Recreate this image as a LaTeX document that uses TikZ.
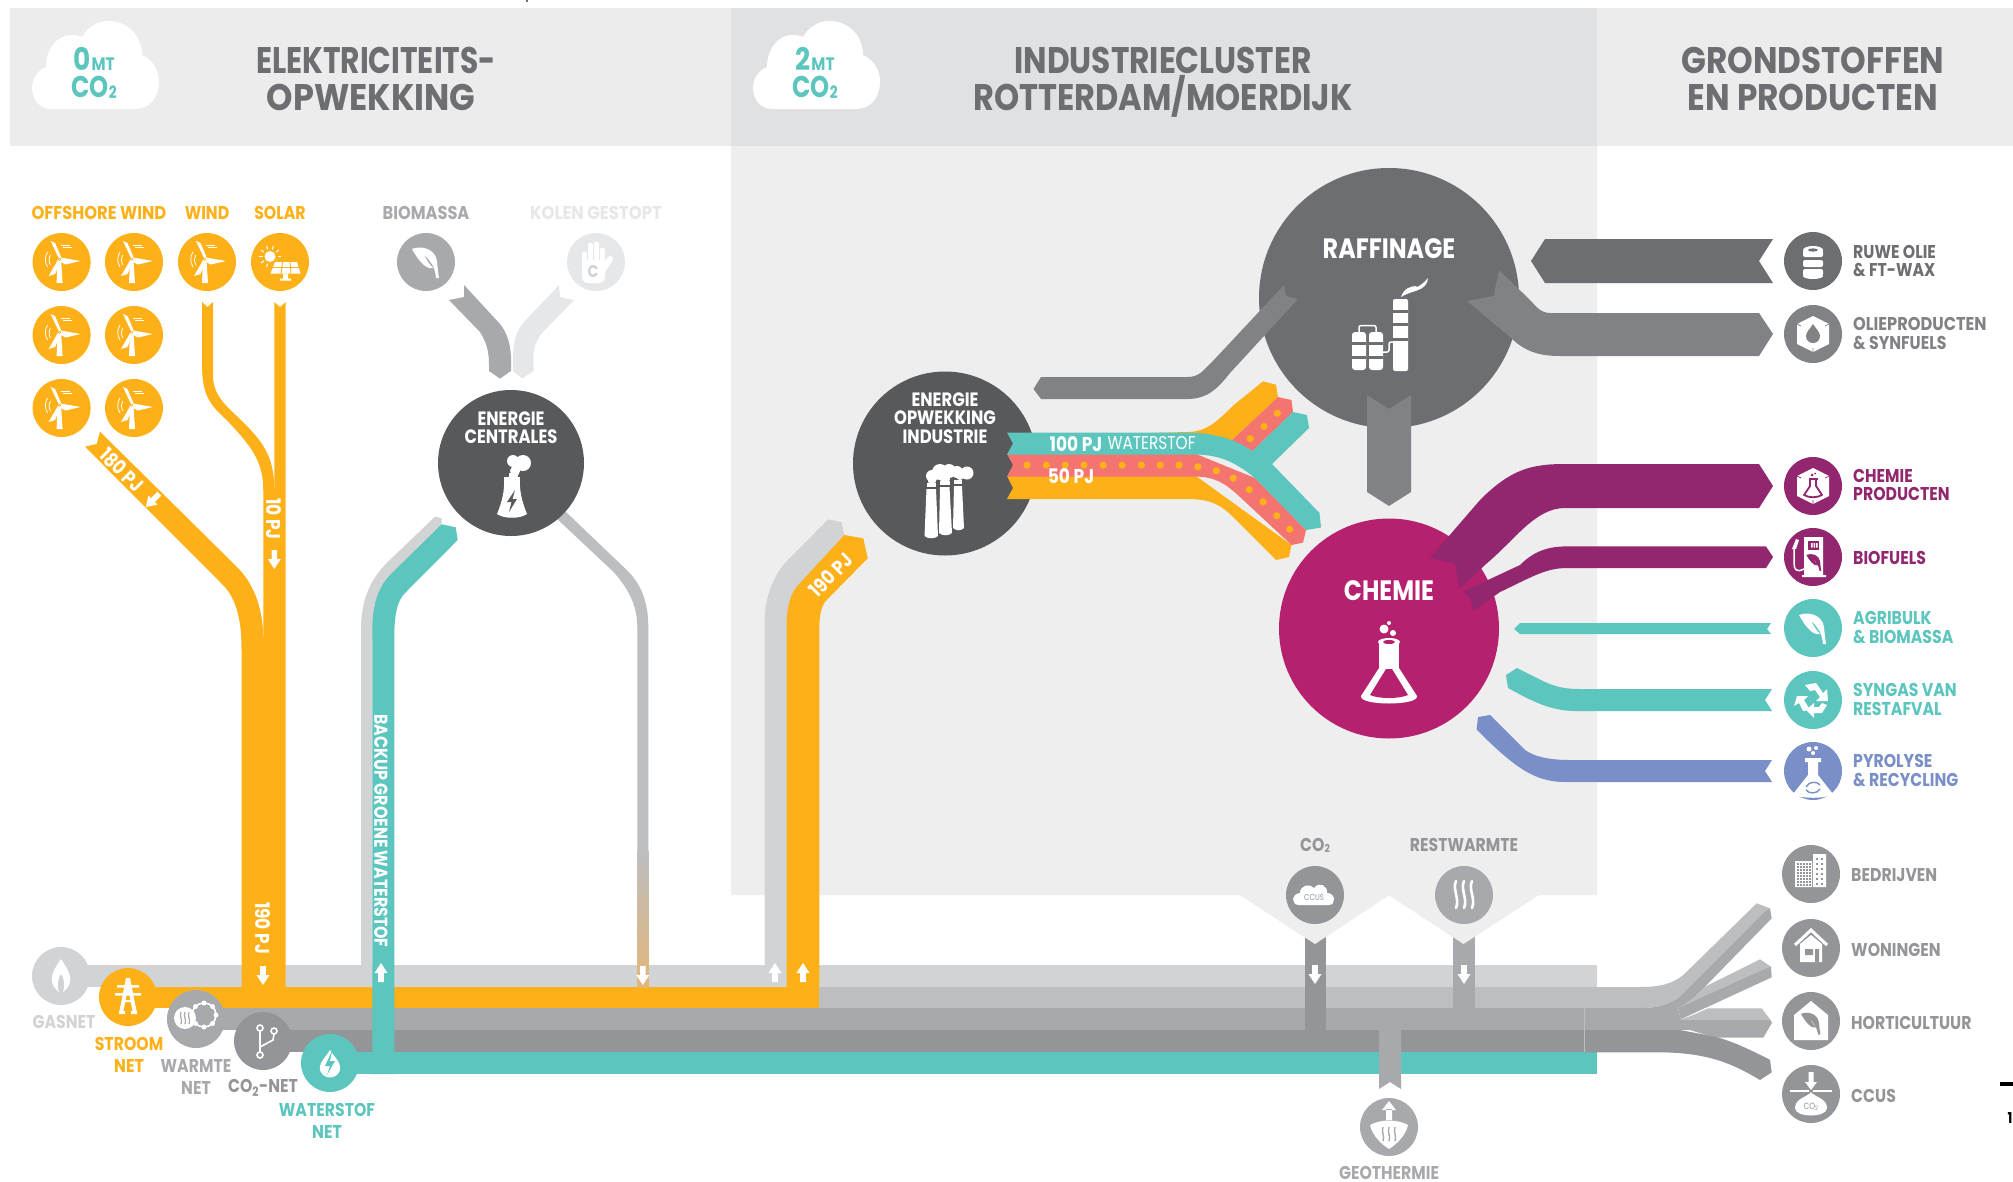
\documentclass[tikz,border=0pt]{standalone}
\usepackage{fontspec}
\usepackage{graphicx}
\setmainfont{Poppins}[FakeStretch=0.85,UprightFont=* Bold,BoldFont=* Bold]
\newfontfamily\titlef{Poppins}[FakeStretch=0.82,UprightFont=* Bold]
\newfontfamily\lightf{Poppins}[FakeStretch=0.83]
\usetikzlibrary{calc}
\definecolor{cOr}{HTML}{FDB017}
\definecolor{cTeal}{HTML}{5BC5BE}
\definecolor{cGa}{HTML}{D1D3D4}
\definecolor{cGb}{HTML}{BCBEC0}
\definecolor{cGc}{HTML}{A7A9AC}
\definecolor{cGd}{HTML}{939598}
\definecolor{cGe}{HTML}{E6E7E8}
\definecolor{cDk}{HTML}{6D6E71}
\definecolor{cDkk}{HTML}{58595B}
\definecolor{cMid}{HTML}{808285}
\definecolor{cMag}{HTML}{B5216F}
\definecolor{cPur}{HTML}{93276F}
\definecolor{cBlue}{HTML}{7A8FC8}
\definecolor{cRed}{HTML}{F47570}
\definecolor{cTan}{HTML}{E3B678}
\definecolor{cHa}{HTML}{ECECEC}
\definecolor{cHb}{HTML}{E0E1E2}
\definecolor{cPanel}{HTML}{EEEEEE}
\newcommand{\fs}[2]{\fontsize{#1}{#2}\selectfont}
\newcommand{\sx}[2]{\scalebox{#1}[1]{#2}}
\tikzset{
 x=1pt,y=-1pt,
 disc/.style={circle,minimum size=58pt,inner sep=0pt,fill=#1},
 title/.style={font=\titlef\fs{37}{37},text=cDk,inner sep=0pt,anchor=base},
 lab/.style={font=\fs{18.5}{18.5},text=#1,inner sep=0pt,anchor=west,align=left,yshift=-1pt},
 clab/.style={font=\fs{18.5}{22},text=#1,inner sep=0pt,anchor=center,align=center,yshift=-1pt},
 wt/.style={font=\fs{20}{20},text=white,inner sep=0pt,anchor=center},
 blab/.style={font=\fs{28}{28},text=white,inner sep=0pt,anchor=center,align=center,yshift=-1pt},
 wturb/.pic={
  \fill[white] (-4,-2) -- (-0.5,-2) -- (1,21) -- (-5,21) -- cycle;
  \fill[white] (-2.5,-3) -- (-11,-21) -- (-6.5,-19) -- (-0.5,-5) -- cycle;
  \fill[white] (-1,-4.5) -- (19,-1) -- (4,2.5) -- (-1,0) -- cycle;
  \fill[white] (-3.5,-2.5) -- (-13,14) -- (-6.5,12) -- (-1,-1) -- cycle;
  \fill[pic actions] (-2.2,-2.5) circle (1.4);
  \fill[white] (-2.2,-2.5) circle (0.6);
  \draw[white,line width=.8pt] (-1,-17) -- (8,-17) (1,-14.5) -- (10,-14.5);
  \draw[white,line width=.8pt] (-14,-10) .. controls (-17,-5) and (-17,0) .. (-14,5);
  \draw[white,line width=.8pt] (-11,-7) .. controls (-13,-4) and (-13,0) .. (-11,3);
 },
 wsolar/.pic={
  \fill[white] (-10,-5.5) circle (5.5);
  \foreach \a in {0,36,...,324}{\draw[white,line width=1pt] ($(-10,-5.5)+(\a:7.5)$) -- ($(-10,-5.5)+(\a:11)$);}
  \fill[cOr] (-7,-1) -- (18,-1) -- (22,12.5) -- (-11,12.5) -- cycle;
  \fill[white] (-5,0) -- (17,0) -- (20.5,11.5) -- (-9.5,11.5) -- cycle;
  \draw[cOr,line width=.9pt] (-7.5,5.5) -- (19,5.5) (2.5,0) -- (1,11.5) (10,0) -- (11,11.5);
  \fill[white] (3,11.5) rectangle (8,16.5) (0,16.5) rectangle (11,18.5);
 },
 wleaf/.pic={
  \fill[white] (-14,-13) .. controls (-4,-17) and (9,-13) .. (11,-1) .. controls (11.5,4) and (12,10) .. (13,16) -- (10,16) .. controls (9.5,11) and (8.5,7) .. (6.5,3) .. controls (3,-2) and (1,-5) .. (-2,-7) .. controls (1,-2) and (3,2) .. (7,6) .. controls (0,8) and (-8,-2) .. cycle;
 },
 whand/.pic={
  \foreach \x/\t in {-11.5/-8,-5.5/-17,0.5/-18,6.5/-12}{\draw[white,line width=5pt,line cap=round] (\x,5) -- (\x,\t);}
  \fill[white,rounded corners=6pt] (-14,-2) rectangle (9,21);
  \draw[white,line width=6pt,line cap=round] (6,9) -- (14,-3);
  \node[font=\fs{17}{17},text=cGa,inner sep=0pt] at (-3,10) {C};
 },
 tower/.pic={
  \fill[white] (-8,-11) -- (8,-11) .. controls (7,2) and (10,14) .. (15,26) .. controls (8,31) and (-8,31) .. (-15,26) .. controls (-10,14) and (-7,2) .. cycle;
  \fill[white] (3,-17) circle (5) (11,-25) circle (8) (1,-27) circle (6);
  \fill[white] (-3,-15) rectangle (6,-10);
  \fill[cDkk] (3,2) -- (-5,14) -- (-0.5,14) -- (-3,24) -- (5,11) -- (0.5,11) -- cycle;
 },
 chimneys/.pic={
  \foreach \xa/\xb/\xc/\xd/\yt/\yb in {-18.5/-9/-7/-20.5/-11/36,-5/4.5/7/-6/-13/33,9/17/19/8/-14/28}{
    \fill[white] (\xa,\yt) -- (\xb,\yt) -- (\xc,\yb) .. controls (\xc-3,\yb+3) and (\xd+3,\yb+3) .. (\xd,\yb) -- cycle;
    \fill[white] (\xa,\yt-6) rectangle (\xb,\yt-2);}
  \fill[white] (-13,-24) circle (6) (-5,-28) circle (8) (4,-29) circle (7) (12,-28) circle (6) (0,-21) circle (5) (-13,-19) circle(4) (22,-27) circle(6.5) (15,-24) circle (4);
 },
 refinery/.pic={
  \fill[white,rounded corners=2pt] (4,-23) rectangle (19,49);
  \foreach \y in {-12,1,16}{\fill[cDk] (4,\y) rectangle (19,\y+2.5);}
  \foreach \x in {-37,-20}{\fill[white,rounded corners=3pt] (\x,10) rectangle (\x+14,48);\foreach \y in {20,34}{\fill[cDk] (\x,\y) rectangle (\x+14,\y+2.5);}}
  \draw[white,line width=1.5pt,rounded corners=2pt] (-30,10) -- (-30,3.5) -- (-13,3.5) -- (-13,12) (-6,30) -- (0,30) -- (0,20) -- (4,20);
  \fill[white] (12,-25) .. controls (15,-34) and (22,-36) .. (28,-36) .. controls (22,-33) and (31,-34) .. (39,-44) .. controls (38,-30) and (22,-32) .. (12,-25) -- cycle;
 },
 flask/.pic={
  \fill[white] (-10,-24) rectangle (10,4);
  \fill[white] (0,-24) ellipse (11 and 4);
  \fill[pic actions] (0,-24) ellipse (6 and 2);
  \fill[white] (-10,2) -- (10,2) -- (28,30) .. controls (30,40) and (-30,40) .. (-28,30) -- cycle;
  \fill[pic actions] (-3,3) -- (3,3) -- (19,29) .. controls (10,33) and (-10,33) .. (-19,29) -- cycle;
  \fill[white] (-5,-37) circle (4.5) (4,-33) circle (3) (0,-43) circle (2);
 },
 wcyl/.pic={
  \foreach \y in {-11,-1,8}{\fill[white,rounded corners=2pt] (-10,\y) rectangle (10,\y+7);}
  \fill[white] (0,-11) ellipse (10 and 4);
  \fill[pic actions] (0,-11) ellipse (5 and 1.6);
  \fill[white] (0,15) ellipse (10 and 3);
 },
 whex/.pic={
  \fill[white] (0,-18) -- (16,-10) -- (16,10) -- (0,18) -- (-16,10) -- (-16,-10) -- cycle;
  \draw[pic actions,line width=.7pt] (-16,-10) -- (-12,-8) (16,-10) -- (12,-8) (0,18) -- (0,14);
 },
 wdrop/.pic={
  \fill[pic actions] (0,-9) .. controls (3,-4) and (7,-1) .. (7,3) .. controls (7,8) and (3,10) .. (0,10) .. controls (-3,10) and (-7,8) .. (-7,3) .. controls (-7,-1) and (-3,-4) .. (0,-9) -- cycle;
 },
 whexflask/.pic={
  \draw[cPur,line width=1.8pt,line join=round] (-3,-7) -- (-3,0) -- (-9,9) .. controls (-4,12) and (4,12) .. (9,9) -- (3,0) -- (3,-7);
  \draw[cPur,line width=1.5pt] (-4.5,-7) -- (4.5,-7);
  \fill[cPur] (-1,-11) circle (1.5) (2,-12.5) circle (1);
 },
 wpump/.pic={
  \fill[white] (-10,-20) -- (9,-20) -- (9,18) -- (12,18) -- (12,20) -- (-12,20) -- (-12,18) -- (-10,18) -- cycle;
  \fill[pic actions] (-6,-16) rectangle (5,-7);
  \fill[white] (-3,-14) rectangle (-1.5,-9.5) (-.5,-14) rectangle (1,-9.5) (2,-14) rectangle (3.5,-9.5);
  \draw[white,line width=1.5pt] (-10,12) .. controls (-18,16) and (-20,12) .. (-20,6) -- (-20,-8);
  \fill[white] (-22,-8) -- (-18,-8) -- (-15,-17) -- (-18,-18) -- cycle;
  \begin{scope}[shift={(0,5)},scale=.55]
  \fill[pic actions] (-14,-13) .. controls (-4,-17) and (9,-13) .. (11,-1) .. controls (11.5,4) and (12,10) .. (13,16) -- (10,16) .. controls (9,7) and (4,0) .. (-2,-7) .. controls (1,-2) and (3,2) .. (7,6) .. controls (0,8) and (-8,-2) .. cycle;
  \end{scope}
 },
 wrec/.pic={
  \fill[white] (-16,-2) -- (-5,-2) -- (-9,2) -- (-3,12) -- (-10,13) -- (-14,5) -- (-19,8) -- cycle;
  \fill[white] (-8,-13) -- (3,-15) -- (10,-5) -- (14,-9) -- (15,3) -- (3,3) -- (7,-1) -- (2,-8) -- (-3,-7) -- cycle;
  \fill[white] (14,7) -- (9,15) -- (1,15) -- (1,20) -- (-7,12) -- (1,5) -- (1,9) -- (6,9) -- (9,5) -- cycle;
 },
 wrecflask/.pic={
  \fill[white] (-5,-13) rectangle (5,3) (-8,-15) rectangle (8,-11);
  \fill[white] (-5,2) -- (5,2) -- (20,21) .. controls (15,26) and (-15,26) .. (-20,21) -- cycle;
  \fill[white] (-4,-24) circle (2.5) (3,-25) circle (2) (0,-20) circle (2);
  \draw[cBlue,line width=1.4pt] (-7,14) .. controls (-4,8) and (4,8) .. (7,12) (7,16) .. controls (4,21) and (-4,21) .. (-7,17);
 },
 wbuild/.pic={
  \fill[white] (-16,-13) rectangle (1,13) (2,-20) rectangle (15,13);
  \foreach \x in {-14,-11,-8,-5,-2}{\foreach \y in {-11,-8,...,10}{\fill[cGd] (\x,\y) rectangle +(1.7,1.7);}}
  \foreach \x in {5,10}{\foreach \y in {-16,-11,...,9}{\fill[cGd] (\x,\y) rectangle +(1.8,2);}}
 },
 whouse/.pic={
  \draw[white,line width=3pt,line join=miter] (-16,-3) -- (0,-18) -- (16,-3);
  \fill[white] (-11,-4) -- (0,-13) -- (11,-4) -- (11,14) -- (-11,14) -- cycle;
  \fill[cGd] (-6,1) rectangle (2,7) (4,1) rectangle (8,14);
 },
 wgreen/.pic={
  \fill[white] (-17,-6) -- (0,-20) -- (17,-6) -- (17,19) -- (-17,19) -- cycle;
  \begin{scope}[scale=.72,shift={(0,3)}]
  \fill[cGd] (-14,-13) .. controls (-4,-17) and (9,-13) .. (11,-1) .. controls (11.5,4) and (12,10) .. (13,16) -- (10,16) .. controls (9,7) and (4,0) .. (-2,-7) .. controls (1,-2) and (3,2) .. (7,6) .. controls (0,8) and (-8,-2) .. cycle;
  \end{scope}
 },
 wccus/.pic={
  \fill[white] (-2.5,-22) rectangle (2.5,-12) (-6,-12) -- (6,-12) -- (0,-4) -- cycle;
  \draw[white,line width=1.3pt] (-21,-3) -- (-2,-3) (2,-3) -- (21,-3);
  \fill[white] (0,-2) .. controls (3,3) and (16,4) .. (16,14) .. controls (16,24) and (-16,24) .. (-16,14) .. controls (-16,4) and (-3,3) .. (0,-2) -- cycle;
  \node[font=\lightf\fs{9}{9},text=cGd,inner sep=0pt] at (0,13) {CO\textsubscript{2}};
 },
 wheat/.pic={
  \foreach \x in {-8,0,8}{\draw[white,line width=2.6pt,line cap=round] (\x,-14) .. controls (\x-4,-6) and (\x+4,4) .. (\x,13);}
 },
 wcloudc/.pic={
  \fill[white] (-16,10) .. controls (-24,10) and (-24,-1) .. (-15,-2) .. controls (-15,-10) and (-5,-12) .. (-1,-7) .. controls (4,-14) and (13,-9) .. (12,-2) .. controls (21,-2) and (21,10) .. (14,10) -- cycle;
  \node[font=\lightf\fs{8.5}{9},text=cGd,inner sep=0pt] at (-1,3) {CCUS};
 },
 wgeo/.pic={
  \fill[white] (-3,-7) rectangle (3,-18) (-7,-17) -- (7,-17) -- (0,-26) -- cycle;
  \fill[white] (-19,-2) .. controls (-8,-8) and (8,-8) .. (19,-2) .. controls (17,8) and (8,17) .. (0,22) .. controls (-8,17) and (-17,8) .. (-19,-2) -- cycle;
  \foreach \x in {-6,0,6}{\draw[cGc,line width=1.4pt] (\x,0) .. controls (\x-2,5) and (\x+2,9) .. (\x,14);}
 },
 wflame/.pic={
  \fill[white] (0,-17) .. controls (6,-8) and (10,-2) .. (9,6) .. controls (8,12) and (3,15) .. (2,16) .. controls (5,8) and (2,0) .. (0,-2) .. controls (-2,0) and (-5,8) .. (-2,16) .. controls (-3,15) and (-8,12) .. (-9,6) .. controls (-10,-2) and (-6,-8) .. (0,-17) -- cycle;
 },
 wpylon/.pic={
  \fill[white] (-2,-19) -- (2,-19) -- (9,16) -- (5,16) -- (1,-4) -- (-1,-4) -- (-5,16) -- (-9,16) -- cycle;
  \fill[white] (-11,-12) rectangle (11,-9.5) (-13,-4) rectangle (13,-1.5);
  \fill[white] (-9,14) rectangle (-3,17) (3,14) rectangle (9,17) (-3,3) rectangle (3,5);
 },
 wnetw/.pic={
  \draw[white,line width=1.6pt] (8,-4) circle (12);
  \foreach \a in {0,45,...,315}{\fill[white] ($(8,-4)+(\a:12)$) circle (2.5);}
  \fill[white] (-11,-1) circle (11);
  \foreach \x in {-15,-11,-7}{\draw[cGc,line width=1.2pt] (\x,-7) .. controls (\x-2,-3) and (\x+2,1) .. (\x,5);}
 },
 wfork/.pic={
  \draw[white,line width=1.6pt] (-3,-10) -- (-3,12);
  \draw[white,line width=1.6pt] (11,-7) -- (10,-1) -- (-3,6);
  \foreach \x/\y in {-3/-13,11/-10,-3/14}{\draw[white,line width=1.6pt] (\x,\y) circle (3);}
 },
 arrd/.pic={\fill[white] (-2.8,-9) rectangle (2.8,0) (-6.5,0) -- (6.5,0) -- (0,10) -- cycle;},
}
\begin{document}
\begin{tikzpicture}
\useasboundingbox (0,0) rectangle (2013,1181);
\fill[white] (0,0) rectangle (2013,1181);
%% header + panel
\fill[cHa] (10,8) rectangle (731,146);
\fill[cHb] (731,8) rectangle (1597,146);
\fill[cHa] (1597,8) rectangle (2013,146);
\fill[cPanel] (731,146) -- (1597,146) -- (1597,895) -- (1538.5,895) -- (1463.5,944) -- (1389,895) -- (1315,944) -- (1240,895) -- (731,895) -- cycle;
%% clouds
\foreach \dx in {0,721}{\begin{scope}[shift={(\dx,0)}]
 \fill[white] (52,109) .. controls (38,109) and (32,98) .. (32,88) .. controls (32,78) and (38,70) .. (46,67) .. controls (46,50) and (56,35) .. (72,35) .. controls (76,35) and (80,36) .. (82,37) .. controls (88,27) and (97,21) .. (108,21) .. controls (130,21) and (142,38) .. (142,55) .. controls (153,60) and (159,70) .. (159,82) .. controls (159,97) and (150,109) .. (135,109) -- cycle;
 \end{scope}}
\node[inner sep=0pt,text=cTeal] (cloudA) at (94,59) {\fs{31}{31}0\kern1pt\fs{18}{18}MT};
\node[inner sep=0pt,text=cTeal] (cloudB) at (94,87.5) {\sx{.95}{\fs{30}{30}CO\raisebox{-1pt}{\fs{17}{17}2}}};
\node[inner sep=0pt,text=cTeal] (cloudC) at (815,59) {\fs{31}{31}2\kern1pt\fs{18}{18}MT};
\node[inner sep=0pt,text=cTeal] (cloudD) at (815,87.5) {\sx{.95}{\fs{30}{30}CO\raisebox{-1pt}{\fs{17}{17}2}}};
\node[title] (hAa) at (376,73) {\sx{.98}{ELEKTRICITEITS-}};
\node[title] (hAb) at (371,110) {\sx{1.107}{OPWEKKING}};
\node[title] (hBa) at (1163,73) {\sx{1.03}{INDUSTRIECLUSTER}};
\node[title] (hBb) at (1163,110) {\sx{1.055}{ROTTERDAM/MOERDIJK}};
\node[title] (hCa) at (1813,73) {\sx{1.075}{GRONDSTOFFEN}};
\node[title] (hCb) at (1813,110) {\sx{1.08}{EN PRODUCTEN}};
%% horizontal bands
\fill[cGa] (61,965) rectangle (1597,987);
\fill[cGb] (818,987) rectangle (1597,1008);
\fill[cOr] (128,987) rectangle (819.3,1008);
\fill[cGc] (196,1008) rectangle (1584,1030);
\fill[cGd] (263,1030) rectangle (1584,1052);
\fill[cTeal] (330,1052) rectangle (1597,1074);
%% fan-out right
\fill[cGb] (1597,987) -- (1640,987) .. controls (1660,987) and (1672,984) .. (1683.3,975) -- (1756.7,903.3) -- (1770,908.3) -- (1765.7,910.7) -- (1680,996.7) .. controls (1670,1004) and (1660,1008) .. (1640,1008) -- (1590,1008) -- (1590,987) -- cycle;
\fill[cGc] (1765.7,910.7) -- (1770,908.3) -- (1771.7,918.3) -- (1705,986.7) .. controls (1695,997) and (1690,1002) .. (1678,1008) -- (1640,1008) .. controls (1660,1008) and (1670,1004) .. (1680,996.7) -- cycle;
\fill[cGb] (1705,986.7) -- (1760,959.3) -- (1771,966.7) -- (1765.7,968.3) -- (1678,1008) .. controls (1690,1002) and (1695,997) .. (1705,986.7) -- cycle;
\fill[cGc] (1678,1008) -- (1765.7,968.3) -- (1771,966.7) -- (1771.7,977.3) -- (1680.7,1019.3) -- cycle;
\fill[cGb] (1680.7,1019.3) .. controls (1692,1016) and (1700,1012) .. (1708,1008.3) -- (1761.7,1008.3) -- (1770,1019.3) -- cycle;
\fill[cGc] (1584,1008) -- (1678,1008) -- (1680.7,1019.3) -- (1770,1019.3) -- (1772,1022.7) -- (1763.3,1037.7) -- (1715,1037.7) -- (1690,1030) -- (1584,1030) -- cycle;
\fill[cGd] (1584,1030) -- (1680,1030) -- (1715,1036.7) .. controls (1735,1042) and (1750,1050) .. (1766.7,1058) -- (1770,1060) -- (1771.7,1072.3) -- (1760,1080) .. controls (1730,1062) and (1705,1052.3) .. (1656.7,1052.3) -- (1584,1052.3) -- cycle;
\draw[cGb,line width=.4pt] (1584,1008) -- (1584,1052);
%% orange wind / solar / offshore
\fill[cOr] (202,302) -- (207.5,307) -- (213,302) -- (213,375) .. controls (213,395) and (225,405) .. (240,419) .. controls (262,441) and (274.3,455) .. (274.3,490) -- (263.3,490) .. controls (263.3,460) and (250,445) .. (226.7,420) .. controls (210,405) and (202,395) .. (202,365) -- cycle;
\fill[cOr] (274.3,302) -- (280,307) -- (285.7,302) -- (285.7,987) -- (241.7,987) -- (241.7,637) -- (263.3,637) -- (263.3,488) -- (274.3,488) -- cycle;
\fill[cOr] (100,431.7) -- (236.7,566.7) .. controls (252,582) and (263.3,605) .. (263.3,640) -- (241.7,650) .. controls (241.7,620) and (236,598) .. (223,585) -- (85,446.7) -- (96.7,444) -- cycle;
%% backup waterstof / gas grey
\fill[cGa] (361,965) -- (361,630) .. controls (361,600) and (370,580) .. (386.7,563) -- (435,516.7) -- (441.7,518.3) -- (441.7,530) -- (372,640) -- (372,965) -- cycle;
\fill[cTeal] (372.3,1074) -- (372.3,630) .. controls (372.3,605) and (378,588) .. (390,575) -- (441.7,524.3) -- (455.7,527.3) -- (457.7,540) -- (405,593) .. controls (398,600) and (394.3,612) .. (394.3,637) -- (394.3,1074) -- cycle;
%% orange 190 up
\fill[cGa] (764.5,965) -- (764.5,623) .. controls (764.5,600) and (772,578) .. (785,563) -- (828.3,519.3) -- (841.7,522.3) -- (844.3,535) -- (790,600) -- (787,965) -- cycle;
\fill[cOr] (786.7,987) -- (786.7,625) .. controls (786.7,608) and (790,595) .. (796.7,586.7) -- (844.3,535) -- (863.3,538.3) -- (867.7,558.3) -- (826.7,600) .. controls (821,606) and (819.3,615) .. (819.3,630) -- (819.3,987) -- cycle;
%% grey line from centrales
\fill[cGb] (551.7,498.3) -- (626.7,570) .. controls (640,583) and (648.3,600) .. (648.3,627) -- (648.3,850) -- (637.3,850) -- (637.3,627) .. controls (637.3,605) and (628,588) .. (613.3,571.7) -- (543.3,506) -- (550,504) -- cycle;
\shade[top color=cGb,bottom color=cTan] (637.3,850) rectangle (648.3,987);
%% biomass
\fill[cGc] (464,285) -- (464,297) -- (449,300) -- (480,332) .. controls (486,342) and (489,350) .. (489,365) -- (489,371) -- (500,378.6) -- (511,371) -- (511,357) .. controls (510,340) and (506,332) .. (500,324) -- cycle;
\fill[cGe] (513,371) -- (522,378.6) -- (533.5,371) -- (533.5,355) .. controls (534,345) and (537,340) .. (542,333) -- (574,300) -- (560,297) -- (559,285) -- (524,322) .. controls (516,332) and (513,342) .. (513,358) -- cycle;
%% verticals to CO2 etc
\fill[cGd] (1305,930) rectangle (1326,1031);
\fill[cGc] (1453,930) rectangle (1475,1009);
\fill[cGc] (1379,1030) -- (1401,1030) -- (1401,1089) -- (1390,1082) -- (1379,1089) -- cycle;
\fill[cPanel] (1240,895) -- (1315,944) -- (1389,895) -- (1463.5,944) -- (1538.5,895) -- cycle;
%% big circles
\node[circle,fill=cDk,minimum size=260pt,inner sep=0pt] (raff) at (1389,298) {};
\node[circle,fill=cMag,minimum size=220pt,inner sep=0pt] (chem) at (1389,628.5) {};
\node[circle,fill=cDkk,minimum size=184pt,inner sep=0pt] (eoi) at (945,463.5) {};
\node[circle,fill=cDkk,minimum size=146pt,inner sep=0pt] (ec) at (511,463) {};
\node[blab] (lraff) at (1389,248) {RAFFINAGE};
\node[blab] (lchem) at (1389,590) {CHEMIE};
\node[font=\fs{19.3}{18.5},text=white,inner sep=0pt,align=center] (leoi) at (945,418) {ENERGIE\\OPWEKKING\\INDUSTRIE};
\node[font=\fs{19.3}{18.5},text=white,inner sep=0pt,align=center,yshift=-.6pt] (lec) at (511,427) {ENERGIE\\CENTRALES};
\pic at (512,488) {tower};
\pic at (945,500) {chimneys};
\pic at (1389,322) {refinery};
\pic[fill=cMag] at (1389,666) {flask};
%% arrows to raffinage & chemie
\fill[cMid] (1033.5,389) -- (1041,377) -- (1187,377) .. controls (1200,377) and (1203,370) .. (1212,362) -- (1284,285) -- (1286,296) -- (1298,299) -- (1230,373) .. controls (1218,388) and (1208,399) .. (1187,399) -- (1041,399) -- cycle;
\fill[cMid] (1367,395) -- (1389,409) -- (1411,395) -- (1411,492) -- (1389,506) -- (1367,492) -- cycle;
%% fork
\fill[cOr] (1150,433) -- (1187,432) .. controls (1208,432) and (1218,420) .. (1235,404) -- (1263,381.4) -- (1276,384.7) -- (1278,397) -- (1231,441) -- cycle;
\fill[cOr] (1007,476) -- (1196,476) -- (1291.5,545) -- (1289,557) -- (1276,560) -- (1233,517) .. controls (1220,504) and (1210,499) .. (1186,499) -- (1007,499) -- (1013,488) -- cycle;
\fill[cRed] (1278,397) -- (1291.5,400) -- (1293,412) -- (1252.5,451) -- (1231,441) -- cycle;
\fill[cRed] (1007,454) -- (1013,465) -- (1007,476.5) -- (1196,476.5) .. controls (1215,477) and (1225,483) .. (1240,497) -- (1291.5,545) -- (1303,542.6) -- (1306,530) -- (1255,478) -- (1196,454) -- cycle;
\fill[cTeal] (1007,432.5) -- (1187,432.5) .. controls (1210,433) and (1232,437) .. (1252.5,451) -- (1293,412) -- (1307,415) -- (1309,428) -- (1272,464) -- (1319.5,513) -- (1321,527.5) -- (1306,530) -- (1255,478) .. controls (1235,462) and (1220,455) .. (1196,454.5) -- (1007,454.5) -- (1013,443.5) -- cycle;
\foreach \x/\y in {451/772,493/772,534/772,575/772,617/772,658/772,700/772,741/772,782/772,823/776,863/786,900/804,935/832,965/862,995/896,1023/929,937/707,967/677,996/645}{
 \fill[cOr] ({820+\x/2.178},{150+\y/2.45}) circle (3.6);}
\node[wt] (l100) at (1076,444) {100 PJ};
\node[inner sep=0pt,text=white,font=\lightf\fs{18.5}{18}] (lwat) at (1151.5,443) {WATERSTOF};
\node[wt] (l50) at (1071,476) {50 PJ};
%% product arrows
\fill[cDk] (1773,239) -- (1759,261) -- (1773,283) -- (1545,283) -- (1531,261) -- (1545,239) -- cycle;
\fill[cMid] (1773,334) -- (1759,356) -- (1560,356) .. controls (1540,356) and (1525,352) .. (1510,337) -- (1467,301) -- (1493.6,296) -- (1499,270) -- (1530,300) .. controls (1535,305) and (1540,313) .. (1550,313) -- (1759,313) -- cycle;
\fill[cPur] (1773,486) -- (1759,508) -- (1565,508) .. controls (1535,508) and (1515,540) .. (1486,564) -- (1459.6,589) -- (1455,564) -- (1430,558) -- (1480,500) .. controls (1510,470) and (1530,464) .. (1565,464) -- (1759,464) -- cycle;
\fill[cPur] (1773,557) -- (1766,568) -- (1567,568) .. controls (1545,568) and (1530,578) .. (1500,592) -- (1473,611) -- (1470.6,599) -- (1463,591.6) -- (1520,565) .. controls (1535,550) and (1550,546.4) .. (1567,546.4) -- (1766,546.4) -- cycle;
\fill[cTeal] (1514,629) -- (1520,623) -- (1771,623) -- (1767,629) -- (1771,634) -- (1520,634) -- cycle;
\fill[cTeal] (1506,675) -- (1517,668) -- (1535,677) .. controls (1550,685) and (1560,689) .. (1580,689) -- (1772,689) -- (1765,700) -- (1772,711) -- (1575,711) .. controls (1550,711) and (1530,700) .. (1508,688) -- cycle;
\fill[cBlue] (1478,717) -- (1490,715) -- (1525,750) .. controls (1535,757) and (1550,760) .. (1570,760) -- (1772,760) -- (1765,771) -- (1772,782) -- (1565,782) .. controls (1535,782) and (1515,768) .. (1476.6,729.6) -- cycle;
%% top labels
\node[clab=cOr] (lo) at (99,212) {\sx{1.04}{OFFSHORE WIND}};
\node[clab=cOr] (lw) at (207,212) {WIND};
\node[clab=cOr] (ls) at (280,212) {SOLAR};
\node[clab=cGc] (lb) at (426,212) {\sx{1.03}{BIOMASSA}};
\node[clab=cGe] (lk) at (596,212) {\sx{1.05}{KOLEN GESTOPT}};
\foreach \n/\x/\y in {o1/61.6/262,o2/134/262,o3/207/262,o4/61.6/335,o5/134/335,o6/61.6/408,o7/134/408}{
 \node[disc=cOr] (\n) at (\x,\y) {};
 \pic[fill=cOr] at (\x,\y) {wturb};}
\node[disc=cOr] (sol) at (280,262) {};
\pic at (280,262) {wsolar};
\node[disc=cGc] (bio) at (426,262) {};
\pic at (426,262) {wleaf};
\node[disc=cGe] (kol) at (596,262) {};
\pic at (596,262) {whand};
%% right labels + circles
\node[disc=cDk] (n1) at (1813,261) {}; \pic[fill=cDk] at (1813,261) {wcyl};
\node[disc=cMid] (n2) at (1813,334) {}; \pic[draw=cMid] at (1813,334) {whex}; \pic[fill=cMid] at (1813,333) {wdrop};
\node[disc=cPur] (n3) at (1813,486) {}; \pic[draw=cPur] at (1813,486) {whex}; \pic at (1813,486) {whexflask};
\node[disc=cPur] (n4) at (1813,557) {}; \pic[fill=cPur] at (1814,557) {wpump};
\node[disc=cTeal] (n5) at (1813,628) {}; \pic at (1813,628) {wleaf};
\node[disc=cTeal] (n6) at (1813,700) {}; \pic at (1813,698) {wrec};
\node[disc=cBlue] (n7) at (1813,771) {}; \pic at (1813,773) {wrecflask};
\node[lab=cDk] (t1) at (1853,260) {RUWE OLIE\\\& FT-WAX};
\node[lab=cMid] (t2) at (1853,332.5) {\sx{1.03}{OLIEPRODUCTEN}\\\& SYNFUELS};
\node[lab=cPur] (t3) at (1853,484) {CHEMIE\\PRODUCTEN};
\node[lab=cPur] (t4) at (1853,557) {BIOFUELS};
\node[lab=cTeal] (t5) at (1853,626.5) {AGRIBULK\\\& BIOMASSA};
\node[lab=cTeal] (t6) at (1853,698.5) {SYNGAS VAN\\RESTAFVAL};
\node[lab=cBlue] (t7) at (1853,769.5) {PYROLYSE\\\& RECYCLING};
\node[disc=cGd] (m1) at (1811,874) {}; \pic at (1811,874) {wbuild};
\node[disc=cGd] (m2) at (1811,948) {}; \pic at (1811,948) {whouse};
\node[disc=cGd] (m3) at (1811,1021) {}; \pic at (1811,1021) {wgreen};
\node[disc=cGd] (m4) at (1811,1094) {}; \pic at (1811,1094) {wccus};
\node[lab=cGd] (u1) at (1851,874.5) {BEDRIJVEN};
\node[lab=cGd] (u2) at (1851,948.5) {WONINGEN};
\node[lab=cGd] (u3) at (1851,1021.5) {HORTICULTUUR};
\node[lab=cGd] (u4) at (1851,1094.5) {CCUS};
%% CO2 / rest / geo
\node[disc=cGd] (co) at (1315,895) {}; \pic at (1315,895) {wcloudc};
\node[disc=cGc] (re) at (1464,895) {}; \pic at (1464,895) {wheat};
\node[disc=cGc] (ge) at (1389,1127) {}; \pic at (1389,1127) {wgeo};
\node[clab=cGd] (lco) at (1315,844) {CO\raisebox{-1pt}{\fs{11}{11}2}};
\node[clab=cGd] (lre) at (1464,844) {RESTWARMTE};
\node[clab=cGc] (lge) at (1389,1172) {GEOTHERMIE};
%% nets
\node[disc=cGa] (gn) at (61,976) {}; \pic at (61,976) {wflame};
\node[disc=cOr] (sn) at (128,997) {}; \pic at (128,997) {wpylon};
\node[disc=cGc] (wn) at (196,1019) {}; \pic at (196,1019) {wnetw};
\node[disc=cGd] (cn) at (263,1041) {}; \pic at (263,1041) {wfork};
\node[disc=cTeal] (hn) at (330,1063) {};
\pic[fill=white,scale=1.45] at (330,1063) {wdrop};
\fill[cTeal] (332,1051) -- (325,1066) -- (330,1066) -- (327,1075) -- (335,1061) -- (330,1061) -- cycle;
\node[clab=cGa] (lgn) at (64,1021) {GASNET};
\node[clab=cOr] (lsn) at (129,1054) {STROOM\\NET};
\node[clab=cGc] (lwn) at (196,1076) {WARMTE\\NET};
\node[clab=cGd] (lcn) at (263,1087) {CO\textsubscript{2}-NET};
\node[clab=cTeal] (lhn) at (327,1120) {WATERSTOF\\NET};
%% line labels
\node[wt,rotate=-45] (p180) at (122,470) {180 PJ};
\node[wt,rotate=-90] (p10) at (274.3,519) {10 PJ};
\node[wt,rotate=-90] (p190a) at (263,928) {190 PJ};
\node[wt,rotate=45] (p190b) at (831,575) {190 PJ};
\node[wt,rotate=-90,font=\fs{18.6}{19}] (pb) at (381,831) {BACKUP GROENE WATERSTOF};
\pic[rotate=-45] at (153,500) {arrd};
\pic at (274.3,559) {arrd};
\pic at (263,975) {arrd};
\pic[rotate=180] at (381,973) {arrd};
\pic at (642.8,975) {arrd};
\pic[rotate=180] at (775,973) {arrd};
\pic[rotate=180] at (803,973) {arrd};
\pic at (1315,974) {arrd};
\pic at (1464,974) {arrd};
%% stray marks at the edges
\fill[black] (2000,1082) rectangle (2013,1086);
\node[inner sep=0pt,font=\fs{15}{15},text=black] (stray) at (2010,1118) {1};
\fill[cDk] (526,0) rectangle (528,2);
\end{tikzpicture}
\end{document}
